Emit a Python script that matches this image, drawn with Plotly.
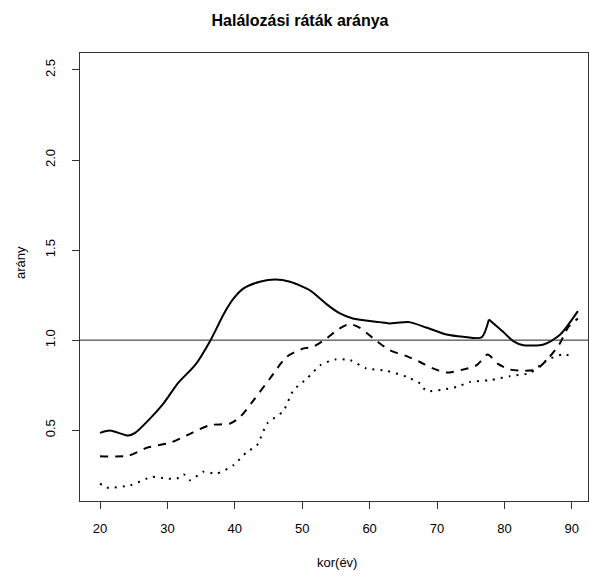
import plotly.graph_objects as go

# Data
age_solid = [20, 21.5, 24.2, 25.2, 27.2, 29.4, 31.6, 34.1, 36.4, 38.4, 39.8, 41.3, 43.7, 46.0, 48.2,
             51.2, 53.6, 55.6, 57.5, 61.5, 62.9, 65.9, 68.4, 71.4, 73.9, 76.6, 77.7, 79.8, 81.3,
             82.8, 85.8, 88.2, 90.9]
ratio_solid = [0.485, 0.498, 0.47, 0.485, 0.556, 0.648, 0.763, 0.861, 1.0, 1.148, 1.23, 1.287, 1.324,
               1.337, 1.324, 1.275, 1.2, 1.148, 1.12, 1.10, 1.093, 1.10, 1.07, 1.031, 1.019, 1.015,
               1.115, 1.046, 0.995, 0.972, 0.976, 1.028, 1.161]

age_dashed = [20, 24.2, 26.9, 30.4, 32.9, 36.3, 39.3, 40.8, 42.8, 45.2, 47.7, 50.2, 51.6, 53.6, 55.3,
              57.0, 58.5, 61.0, 63.0, 65.5, 67.4, 69.4, 71.4, 73.9, 75.9, 77.5, 79.0, 80.8, 82.8,
              84.7, 86.7, 88.2, 89.5, 90.9]
ratio_dashed = [0.356, 0.358, 0.402, 0.43, 0.472, 0.528, 0.537, 0.574, 0.667, 0.787, 0.907, 0.954,
                0.963, 1.009, 1.059, 1.089, 1.07, 0.996, 0.944, 0.911, 0.88, 0.843, 0.82, 0.837,
                0.861, 0.92, 0.87, 0.837, 0.83, 0.837, 0.907, 0.98, 1.074, 1.12]

age_dotted = [20, 21, 24.5, 27.7, 29.9, 31.4, 32.4, 33.4, 35.3, 37.3, 39.8, 41.8, 43.3, 44.8, 47.2,
              48.7, 50.7, 52.7, 54.9, 57.1, 59.5, 62.5, 65.5, 67.5, 68.4, 70.9, 72.9, 74.9, 77.9,
              80.8, 83.8, 86.3, 88.8, 90.3]
ratio_dotted = [0.204, 0.181, 0.194, 0.241, 0.231, 0.231, 0.256, 0.222, 0.269, 0.259, 0.306, 0.38,
                0.417, 0.537, 0.607, 0.722, 0.787, 0.861, 0.893, 0.889, 0.843, 0.83, 0.796, 0.759,
                0.718, 0.726, 0.74, 0.768, 0.778, 0.8, 0.818, 0.889, 0.922, 0.904]

x_ticks = [20, 30, 40, 50, 60, 70, 80, 90]
y_ticks = [0.5, 1.0, 1.5, 2.0, 2.5]
reference_level = 1.0

FONT = "Liberation Sans, Arial, sans-serif"

fig = go.Figure()

# solid line: smooth pieces joined at the sharp peak near age 77.7
peak = age_solid.index(77.7)
for xs, ys in [(age_solid[:peak + 1], ratio_solid[:peak + 1]),
               (age_solid[peak:], ratio_solid[peak:])]:
    fig.add_trace(go.Scatter(x=xs, y=ys, mode="lines",
                             line=dict(color="black", width=2, shape="spline", smoothing=0.7),
                             showlegend=False))
fig.add_trace(go.Scatter(x=age_dashed, y=ratio_dashed, mode="lines",
                         line=dict(color="black", width=2, dash="8px,7px", shape="spline",
                                   smoothing=0.7), showlegend=False))
fig.add_trace(go.Scatter(x=age_dotted, y=ratio_dotted, mode="lines",
                         line=dict(color="black", width=2, dash="2px,6px", shape="spline",
                                   smoothing=0.6), showlegend=False))

fig.add_hline(y=reference_level, line=dict(color="#222222", width=1))

fig.update_layout(
    width=589, height=574,
    margin=dict(l=80, r=1, t=53, b=73),
    paper_bgcolor="white", plot_bgcolor="white",
    font=dict(family=FONT, size=13, color="black"),
    title=dict(text="<b>Halálozási ráták aránya</b>", x=300/589, xref="container",
               xanchor="center", y=1 - 20/574, yref="container", yanchor="middle",
               font=dict(family=FONT, size=16, color="black")),
    xaxis=dict(range=[17.03, 92.4], tickvals=x_ticks, ticks="outside", ticklen=7,
               tickcolor="#333333", showline=True, linecolor="#333333", linewidth=1,
               mirror=True, showgrid=False, zeroline=False, ticklabelstandoff=8),
    yaxis=dict(range=[0.107, 2.594], tickvals=y_ticks, tickformat=".1f", ticks="outside",
               ticklen=7, tickcolor="#333333", showline=True, linecolor="#333333", linewidth=1,
               mirror=True, showgrid=False, zeroline=False, tickangle=-90, ticklabelstandoff=12),
    annotations=[
        dict(text="kor(év)", x=(337 - 80) / 508, y=(501 - 562) / 448, xref="paper",
             yref="paper", showarrow=False, xanchor="center", yanchor="middle",
             font=dict(family=FONT, size=13, color="black")),
        dict(text="arány", x=(20 - 80) / 508, y=(501 - 263) / 448, xref="paper",
             yref="paper", showarrow=False, textangle=-90, xanchor="center",
             yanchor="middle", font=dict(family=FONT, size=13, color="black")),
    ],
)

fig.write_html("out.html")
